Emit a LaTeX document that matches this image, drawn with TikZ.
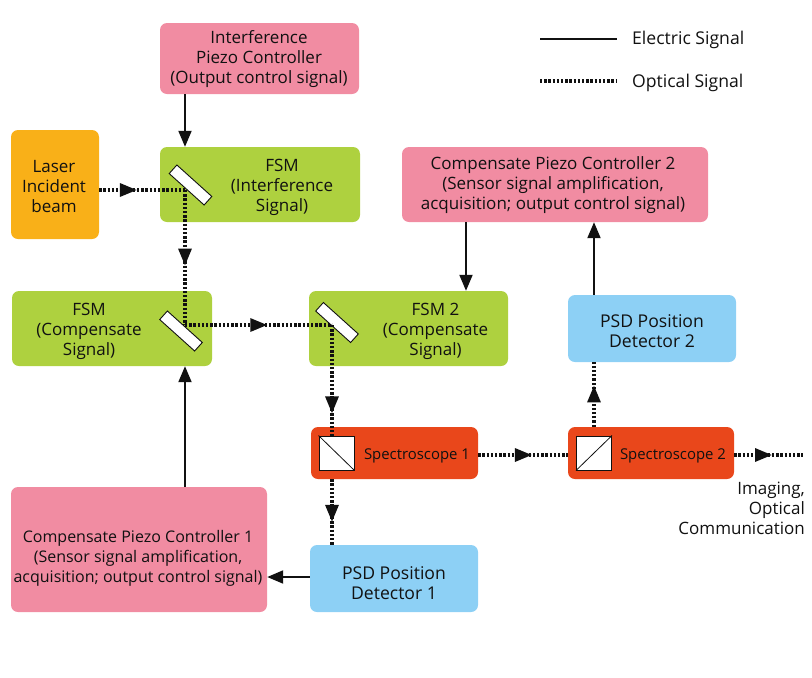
\documentclass[tikz,border=0pt]{standalone}
\usepackage{fontspec}
\setmainfont{Open Sans}
\usetikzlibrary{arrows.meta,decorations.markings}
\definecolor{pinkbox}{HTML}{F18CA2}
\definecolor{greenbox}{HTML}{AED13F}
\definecolor{orangebox}{HTML}{F9B018}
\definecolor{bluebox}{HTML}{8DD0F5}
\definecolor{redbox}{HTML}{E9471B}
\definecolor{ink}{HTML}{111111}
\tikzset{
  box/.style={rectangle,rounded corners=7pt,inner sep=0pt,draw=none},
  txt/.style={font=\fontsize{17}{20}\selectfont,align=center,inner sep=0pt,text=ink},
  narrowtxt/.style={txt,font=\fontsize{16}{20}\selectfont},
  psdtxt/.style={txt,font=\fontsize{17.6}{20}\selectfont},
  smalltxt/.style={font=\fontsize{14.9}{18}\selectfont,inner sep=0pt,text=ink},
  mirror/.style={rectangle,draw=ink,fill=white,line width=0.9pt,minimum width=47pt,minimum height=11.5pt,inner sep=0pt,rotate=-42},
  cube/.style={rectangle,draw=ink,fill=white,line width=1pt,minimum width=35pt,minimum height=34pt,inner sep=0pt},
  electric/.style={draw=ink,line width=2pt,-{Triangle[length=16pt,width=13pt]}},
  optical/.style={draw=ink,line width=3.1pt,dash pattern=on 2.3pt off 1.9pt},
  legendsolid/.style={draw=ink,line width=2pt},
  tipat/.style={postaction={decorate},decoration={markings,mark=at position #1 with {\arrow[ink,solid]{Triangle[length=17pt,width=13pt]}}}}
}
\begin{document}
\begin{tikzpicture}[x=1pt,y=-1pt]
\useasboundingbox (0,0) rectangle (812,678);
% boxes
\node[box,fill=pinkbox,minimum width=199pt,minimum height=71pt] (ipc) at (259.5,58.5) {};
\node[box,fill=greenbox,minimum width=200pt,minimum height=75pt] (fsmi) at (260,184.5) {};
\node[box,fill=orangebox,minimum width=88pt,minimum height=109pt] (laser) at (55,184.5) {};
\node[box,fill=greenbox,minimum width=200pt,minimum height=75pt] (fsmc) at (112,328.5) {};
\node[box,fill=greenbox,minimum width=199pt,minimum height=75pt] (fsmt) at (408.5,328.5) {};
\node[box,fill=pinkbox,minimum width=306pt,minimum height=75pt] (cpc2) at (555,184.5) {};
\node[box,fill=bluebox,minimum width=168pt,minimum height=67pt] (psd2) at (652,328.5) {};
\node[box,fill=redbox,minimum width=167pt,minimum height=52pt] (sp1) at (394.5,453) {};
\node[box,fill=redbox,minimum width=166pt,minimum height=52pt] (sp2) at (651,453) {};
\node[box,fill=pinkbox,minimum width=256pt,minimum height=125pt] (cpc1) at (139,549.5) {};
\node[box,fill=bluebox,minimum width=168pt,minimum height=67pt] (psd1) at (394,578.5) {};
% optical elements
\node[mirror] (m1) at (190.5,185) {};
\node[mirror] (m2) at (181,331) {};
\node[mirror] (m3) at (337,322.5) {};
\node[cube] (c1) at (336.5,453) {};
\draw[ink,line width=0.8pt] (c1.north west) -- (c1.south east);
\node[cube] (c2) at (594,453) {};
\draw[ink,line width=0.8pt] (c2.south west) -- (c2.north east);
% junctions and free ends
\coordinate (j1) at (185,190);
\coordinate (j2) at (185,325);
\coordinate (j3) at (332,325);
\coordinate (endout) at (803,455);
\coordinate (l1) at (540,39);
\coordinate (l2) at (617,39);
\coordinate (l3) at (540,81);
\coordinate (l4) at (617,81);
% optical connectors
\draw[optical,tipat=0.44] (laser.east |- j1) -- (j1);
\draw[optical,tipat=0.56] (j1) -- (j2);
\draw[optical,tipat=0.56] (j2) -- (j3);
\draw[optical,tipat=0.8] (j3) -- (c1.north -| j3);
\draw[optical,tipat=0.6] (sp1.east |- endout) -- (sp2.west |- endout);
\draw[optical,tipat=0.55] (sp2.east |- endout) -- (endout);
\draw[optical,tipat=0.64] (sp2.north -| c2) -- (psd2.south -| c2);
\draw[optical,tipat=0.65] (sp1.south -| j3) -- (psd1.north -| j3);
% electric connectors
\draw[electric] (ipc.south -| j1) -- (fsmi.north -| j1);
\draw[electric] (cpc1.north -| j1) -- (fsmc.south -| j1);
\draw[electric] (cpc2.south -| 466,0) -- (fsmt.north -| 466,0);
\draw[electric] (psd2.north -| c2) -- (cpc2.south -| c2);
\draw[electric] (psd1.west |- 0,577) -- (cpc1.east |- 0,577);
% legend
\draw[legendsolid] (l1) -- (l2);
\draw[optical] (l3) -- (l4);
% texts
\node[txt] (t1) at (259,59) {Interference\\Piezo Controller\\(Output control signal)};
\node[txt] (t2) at (282,187.5) {FSM\\(Interference\\Signal)};
\node[txt] (t3) at (54,187) {Laser\\Incident\\beam};
\node[txt] (t4) at (89,331) {FSM\\(Compensate\\Signal)};
\node[txt] (t5) at (435.5,331) {FSM 2\\(Compensate\\Signal)};
\node[txt] (t6) at (553,185) {Compensate Piezo Controller 2\\(Sensor signal amplification,\\acquisition; output control signal)};
\node[psdtxt] (t7) at (652,331) {PSD Position\\Detector 2};
\node[smalltxt] (t8) at (417,456) {Spectroscope 1};
\node[smalltxt] (t9) at (673,456) {Spectroscope 2};
\node[narrowtxt] (t10) at (138,558) {Compensate Piezo Controller 1\\(Sensor signal amplification,\\acquisition; output control signal)};
\node[psdtxt] (t11) at (394,583) {PSD Position\\Detector 1};
\node[txt,align=right,anchor=north east] (t12) at (805,482) {Imaging,\\Optical\\Communication};
\node[psdtxt,anchor=west] (t13) at (632,40) {Electric Signal};
\node[psdtxt,anchor=west] (t14) at (632,83) {Optical Signal};
\end{tikzpicture}
\end{document}
